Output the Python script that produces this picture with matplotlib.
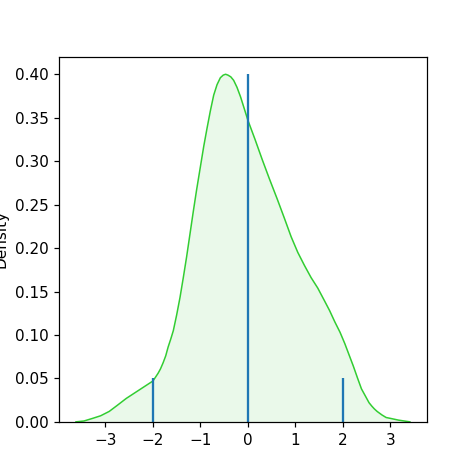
import matplotlib
matplotlib.use("Agg")
import matplotlib.pyplot as plt

# density curve
kde_x = [-3.62, -3.45, -3.27, -3.10, -2.92, -2.75, -2.56, -2.42, -2.28, -2.14,
         -2.00, -1.95, -1.89, -1.84, -1.785, -1.73, -1.68, -1.62, -1.57, -1.50,
         -1.43, -1.36, -1.29, -1.22, -1.15, -1.08, -1.005, -0.93, -0.86, -0.79,
         -0.72, -0.65, -0.58, -0.52, -0.47, -0.42, -0.36, -0.30, -0.23, -0.155,
         -0.08, 0.0, 0.15, 0.30, 0.45, 0.62, 0.77, 0.91, 1.05, 1.19,
         1.33, 1.47, 1.615, 1.72, 1.83, 1.94, 2.04, 2.13, 2.22, 2.31,
         2.39, 2.45, 2.50, 2.55, 2.61, 2.66, 2.72, 2.82, 2.91, 3.00,
         3.17, 3.41]
kde_y = [0.000, 0.001, 0.004, 0.007, 0.012, 0.019, 0.027, 0.032, 0.037, 0.042,
         0.047, 0.051, 0.056, 0.061, 0.068, 0.076, 0.086, 0.096, 0.105, 0.123,
         0.143, 0.166, 0.190, 0.216, 0.242, 0.267, 0.292, 0.317, 0.338, 0.358,
         0.376, 0.388, 0.396, 0.399, 0.400, 0.399, 0.397, 0.393, 0.385, 0.374,
         0.361, 0.347, 0.325, 0.302, 0.280, 0.256, 0.234, 0.213, 0.195, 0.180,
         0.166, 0.154, 0.139, 0.128, 0.115, 0.103, 0.090, 0.077, 0.064, 0.050,
         0.038, 0.032, 0.027, 0.022, 0.018, 0.015, 0.012, 0.008, 0.005, 0.004,
         0.002, 0.000]

# vertical markers
line_x = [-2, 0, 2]
line_h = [0.05, 0.40, 0.05]

fig, ax = plt.subplots(figsize=(474 / 110, 474 / 110), dpi=110)
ax.plot(kde_x, kde_y, color="limegreen", lw=1)
ax.fill_between(kde_x, kde_y, color="limegreen", alpha=0.1, lw=0)
ax.vlines(line_x, 0, line_h, color="C0", lw=1.5)
ax.set_ylim(bottom=0)
ax.set_ylabel("Density")
fig.savefig("out.png")
